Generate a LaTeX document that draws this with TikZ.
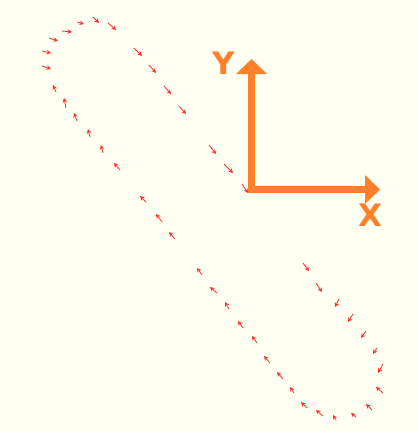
\documentclass[tikz,border=0pt]{standalone}
\usepackage{fontspec}
\newfontfamily\labelfont{DejaVu Sans}
\usetikzlibrary{arrows.meta}
\definecolor{bg}{RGB}{255,255,242}
\definecolor{axisorange}{RGB}{255,127,42}
\definecolor{vecred}{RGB}{255,45,45}
\begin{document}
\begin{tikzpicture}[x=1pt,y=-1pt,
  vec/.style={draw=vecred,line width=0.8pt,-{Stealth[length=4.5pt,width=4.5pt]}},
  axis/.style={draw=axisorange,line width=7pt,line join=miter,
    {Triangle[length=15pt,width=30pt]}-{Triangle[length=15pt,width=28pt]}},
  axlabel/.style={text=axisorange,font=\labelfont\bfseries\fontsize{31}{31}\selectfont,inner sep=0pt}]
\fill[bg] (0,0) rectangle (418,432);
\useasboundingbox (0,0) rectangle (418,432);
% small vectors along the loop (tail/head)
\foreach \ax/\ay/\bx/\by in {
 42/66/51/69, 42/51/51/53, 49/38/58/41, 62/31/72/32, 77/22/84/24, 93/17/99/23, 108/23/116/30,
 134/48/142/56, 149/65/156/73, 164/86/171/94, 179/106/186/114, 209/145/216/154, 224/164/233/173, 242/184/248/193,
 56/92/53/85, 66/108/64/98, 77/121/74/113, 90/137/88/129, 103/153/101/145, 120/170/114/163,
 146/202/140/196, 162/222/156/214, 175/239/169/232, 202/275/197/268, 217/293/210/287, 229/309/225/302,
 243/328/238/321, 257/343/252/336, 270/363/264/356, 283/379/277/372, 294/393/290/387, 307/408/301/402,
 323/416/316/410, 336/420/333/415, 356/417/351/413, 372/410/366/404, 383/393/376/387,
 383/364/378/373, 377/348/373/354, 366/331/361/338, 353/314/348/322, 339/299/335/307,
 316/283/322/292, 303/263/309/271}
 {\draw[vec] (\ax,\ay) -- (\bx,\by);}
% axes
\coordinate (ytip) at (251.5,59);
\coordinate (origin) at (251.5,189.5);
\coordinate (xtip) at (380,189.5);
\draw[axis] (ytip) -- (origin) -- (xtip);
\node[axlabel] (ylab) at (224,63) {Y};
\node[axlabel] (xlab) at (370,215) {X};
\end{tikzpicture}
\end{document}
